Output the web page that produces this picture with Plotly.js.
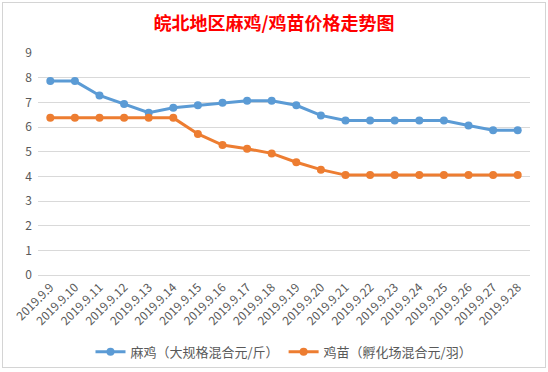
<!DOCTYPE html>
<html>
<head>
<meta charset="utf-8">
<script src="https://cdn.plot.ly/plotly-3.0.1.min.js"></script>
<style>
html,body{margin:0;padding:0;background:#fff;}
#wrap{position:relative;width:548px;height:372px;}
#chart{position:absolute;left:0;top:0;width:548px;height:372px;}
#frame{position:absolute;left:2px;top:2px;width:542px;height:364px;border:1px solid #d4d4d4;pointer-events:none;}
</style>
</head>
<body>
<div id="wrap"><div id="chart"></div><div id="frame"></div></div>
<script>
const dates = ["2019.9.9","2019.9.10","2019.9.11","2019.9.12","2019.9.13","2019.9.14","2019.9.15","2019.9.16","2019.9.17","2019.9.18","2019.9.19","2019.9.20","2019.9.21","2019.9.22","2019.9.23","2019.9.24","2019.9.25","2019.9.26","2019.9.27","2019.9.28"];
const maji = [7.86,7.86,7.28,6.93,6.58,6.78,6.88,6.98,7.06,7.06,6.88,6.47,6.26,6.26,6.26,6.26,6.26,6.06,5.87,5.87];
const jimiao = [6.37,6.37,6.37,6.37,6.37,6.37,5.72,5.27,5.12,4.93,4.57,4.27,4.05,4.05,4.05,4.05,4.05,4.05,4.05,4.05];
const name1 = "麻鸡（大规格混合元/斤）";
const name2 = "鸡苗（孵化场混合元/羽）";
const titleText = "皖北地区麻鸡/鸡苗价格走势图";

const font = "'Noto Sans CJK SC', 'Microsoft YaHei', sans-serif";
const traces = [
  {x: dates, y: maji, name: name1, type: "scatter", mode: "lines+markers",
   line: {color: "#5B9BD5", width: 3}, marker: {color: "#5B9BD5", size: 8}},
  {x: dates, y: jimiao, name: name2, type: "scatter", mode: "lines+markers",
   line: {color: "#ED7D31", width: 3}, marker: {color: "#ED7D31", size: 8}}
];
const layout = {
  width: 548, height: 372,
  margin: {l: 38, r: 18, t: 53, b: 97},
  paper_bgcolor: "#fff", plot_bgcolor: "#fff",
  font: {family: font, color: "#595959", size: 12},
  title: {text: "<b>" + titleText + "</b>", x: 0.5, xanchor: "center", y: 0.935, yanchor: "middle",
          font: {family: font, size: 18, color: "#FF0000"}},
  xaxis: {type: "category", range: [-0.5, 19.5], tickangle: -45, showgrid: false, zeroline: false,
          showline: false, ticks: "", tickfont: {size: 12, color: "#595959"}, fixedrange: true,
          automargin: false, ticklabelstandoff: 2},
  yaxis: {range: [0, 9], dtick: 1, showgrid: true, gridcolor: "#d9d9d9", gridwidth: 1,
          zeroline: true, zerolinecolor: "#d9d9d9", showline: false, ticks: "",
          tickfont: {size: 12, color: "#595959"}, fixedrange: true, automargin: false,
          ticklabelstandoff: 5},
  showlegend: true,
  legend: {orientation: "h", x: 0.5, xanchor: "center", yref: "container", y: 0.054, yanchor: "middle",
           font: {size: 13, color: "#595959"}, itemwidth: 30},
};
Plotly.newPlot("chart", traces, layout, {displayModeBar: false, staticPlot: true});
</script>
</body>
</html>
